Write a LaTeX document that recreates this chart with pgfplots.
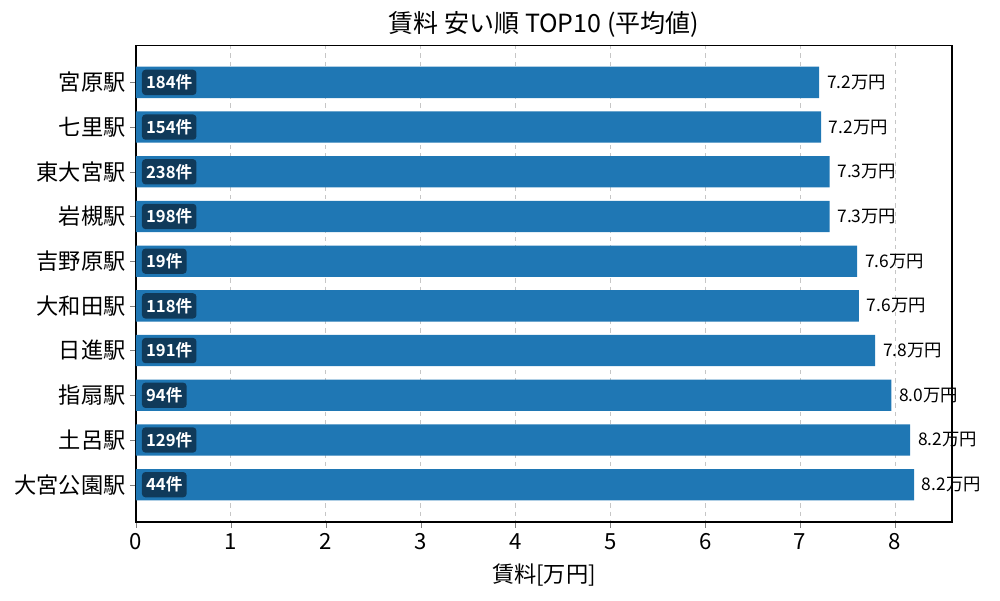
\documentclass[border=0pt]{standalone}
\usepackage{pgfplots}
\pgfplotsset{compat=1.18}
\usepackage{fontspec}
\setmainfont{Noto Sans CJK JP}
\newfontfamily\cjkbold[BoldFont={Noto Sans CJK JP Bold}]{Noto Sans CJK JP}
\definecolor{barblue}{HTML}{1F77B4}
\definecolor{tagbg}{HTML}{103A5A}

\begin{document}
\begin{tikzpicture}
\useasboundingbox (-97.92pt,-56.16pt) rectangle (622.08pt,375.84pt);
\begin{axis}[
    scale only axis,
    width=587.5pt, height=343.4pt,
    xmin=0, xmax=8.6,
    ymin=-0.835, ymax=9.835,
    y dir=reverse,
    ytick={0,...,9},
    yticklabels={宮原駅,七里駅,東大宮駅,岩槻駅,吉野原駅,大和田駅,日進駅,指扇駅,土呂駅,大宮公園駅},
    xtick={0,...,8},
    /pgf/number format/assume math mode=true,
    tick label style={font=\fontsize{16pt}{19pt}\selectfont},
    xticklabel style={yshift=-1pt},
    tick align=outside,
    tick pos=left,
    major tick length=4pt,
    xmajorgrids,
    grid style={dashed, gray!45, line width=0.6pt},
    axis line style={line width=0.8pt},
    xlabel={賃料[万円]},
    xlabel style={font=\fontsize{16pt}{19pt}\selectfont, yshift=-3pt},
    title={賃料 安い順 TOP10 (平均値)},
    title style={font=\fontsize{18pt}{21pt}\selectfont, yshift=-4pt},
    clip=false,
]
\addplot[xbar, bar width=0.7, fill=barblue, draw=none,
    nodes near coords,
    point meta=explicit symbolic,
    every node near coord/.append style={anchor=west, inner sep=0pt, xshift=5.5pt,
        font=\fontsize{12.5pt}{15pt}\selectfont, text=black}]
    table[x=v, y=i, meta=lab] {
i v lab
0 7.20 7.2万円
1 7.22 7.2万円
2 7.31 7.3万円
3 7.31 7.3万円
4 7.60 7.6万円
5 7.62 7.6万円
6 7.79 7.8万円
7 7.96 8.0万円
8 8.16 8.2万円
9 8.20 8.2万円
};
\addplot[only marks, mark=none,
    nodes near coords,
    point meta=explicit symbolic,
    every node near coord/.append style={anchor=west, fill=tagbg, text=white,
        rounded corners=2.5pt, inner xsep=3pt, inner ysep=3.5pt,
        font=\cjkbold\bfseries\fontsize{12pt}{14pt}\selectfont}]
    table[x=v, y=i, meta=n] {
i v n
0 0.06 184件
1 0.06 154件
2 0.06 238件
3 0.06 198件
4 0.06 19件
5 0.06 118件
6 0.06 191件
7 0.06 94件
8 0.06 129件
9 0.06 44件
};
\end{axis}
\end{tikzpicture}
\end{document}
